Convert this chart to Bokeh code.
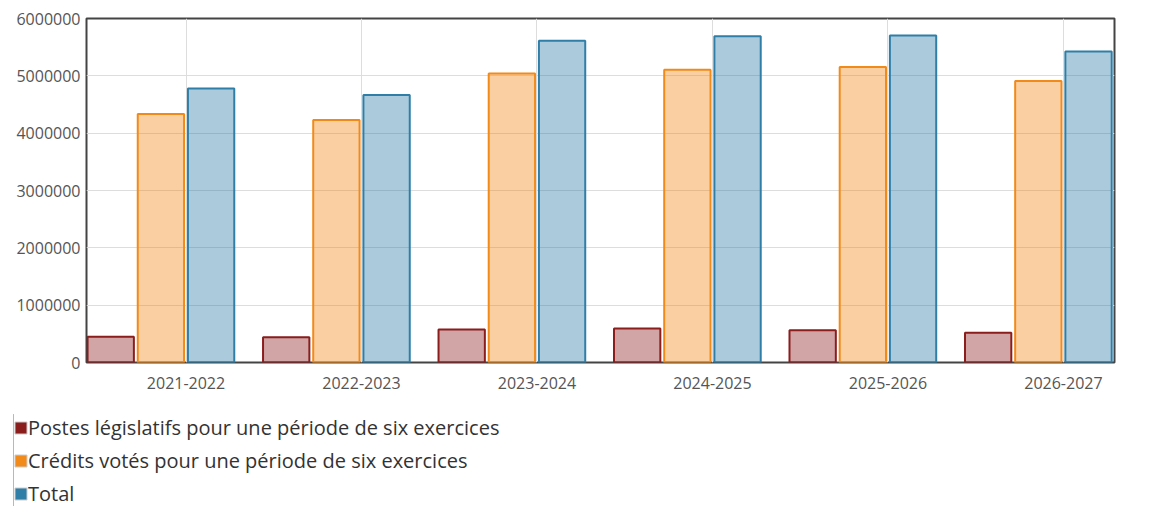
from bokeh.plotting import figure
from bokeh.models import (ColumnDataSource, Range1d, FixedTicker, Legend, LegendItem,
                          NumeralTickFormatter)
from bokeh.transform import dodge
from bokeh.embed import file_html
from bokeh.resources import INLINE

categories = ["2021-2022", "2022-2023", "2023-2024", "2024-2025", "2025-2026", "2026-2027"]
postes_legislatifs = [450000, 440000, 575000, 595000, 562000, 520000]
credits_votes = [4335000, 4228000, 5040000, 5105000, 5155000, 4910000]
total = [4780000, 4665000, 5612000, 5690000, 5702000, 5425000]
series_names = ["Postes législatifs pour une période de six exercices",
                "Crédits votés pour une période de six exercices",
                "Total"]
y_ticks = [0, 1000000, 2000000, 3000000, 4000000, 5000000, 6000000]

FONT = "Open Sans"
colors = ["#8b1d1d", "#f28a1a", "#2e7ea8"]

positions = list(range(len(categories)))
source = ColumnDataSource(dict(x=positions, red=postes_legislatifs,
                               orange=credits_votes, blue=total))

p = figure(width=1158, height=400, output_backend="svg", toolbar_location=None,
           x_range=Range1d(-0.567, 5.291), y_range=Range1d(0, 6000000),
           min_border_left=86, min_border_right=44, min_border_top=18,
           min_border_bottom=38)

bw = 0.264
offsets = [-0.429, -0.143, 0.143]
for col, off, c in zip(["red", "orange", "blue"], offsets, colors):
    p.vbar(x=dodge("x", off, range=p.x_range), top=col, width=bw, bottom=0,
           source=source, fill_color=c, fill_alpha=0.4, line_color=c, line_width=2)

p.outline_line_color = "#444444"
p.outline_line_width = 2

p.xaxis.ticker = FixedTicker(ticks=positions)
p.xaxis.major_label_overrides = {i: c for i, c in enumerate(categories)}
p.yaxis.ticker = FixedTicker(ticks=y_ticks)
p.yaxis.formatter = NumeralTickFormatter(format="0")
for ax in (p.xaxis[0], p.yaxis[0]):
    ax.axis_line_color = None
    ax.major_tick_line_color = None
    ax.minor_tick_line_color = None
    ax.major_tick_out = 0
    ax.major_tick_in = 0
    ax.major_label_text_font = FONT
    ax.major_label_text_font_size = "16px"
    ax.major_label_text_color = "#555555"
p.xaxis.major_label_standoff = 14
p.yaxis.major_label_standoff = 6

p.xgrid.grid_line_color = "#dddddd"
p.ygrid.grid_line_color = "#dddddd"
p.xgrid.ticker = FixedTicker(ticks=positions)
p.ygrid.ticker = FixedTicker(ticks=y_ticks)

# legend area (separate root so its frame is not aligned with the chart)
p2 = figure(width=1158, height=106, output_backend="svg", toolbar_location=None,
            x_range=Range1d(100, 101), y_range=Range1d(0, 1),
            x_axis_location=None, y_axis_location=None,
            min_border_left=13, min_border_top=14, min_border_right=0, min_border_bottom=0)
p2.outline_line_color = None
p2.xgrid.visible = False
p2.ygrid.visible = False

items = []
for col, c, name in zip(["red", "orange", "blue"], colors, series_names):
    sw = p2.vbar(x="x", top=col, width=bw, bottom=0, source=source,
                 fill_color=c, fill_alpha=1.0, line_color="#cccccc", line_width=1)
    items.append(LegendItem(label=name, renderers=[sw]))

legend = Legend(items=items, location="top_left", orientation="vertical",
                margin=0, padding=0, spacing=6, label_height=27,
                glyph_width=15, glyph_height=15, label_standoff=0,
                border_line_color=None, background_fill_alpha=0,
                label_text_font=FONT, label_text_font_size="20px",
                label_text_color="#333333")
p2.add_layout(legend, "center")

open("out.html", "w").write(file_html([p, p2], INLINE))
